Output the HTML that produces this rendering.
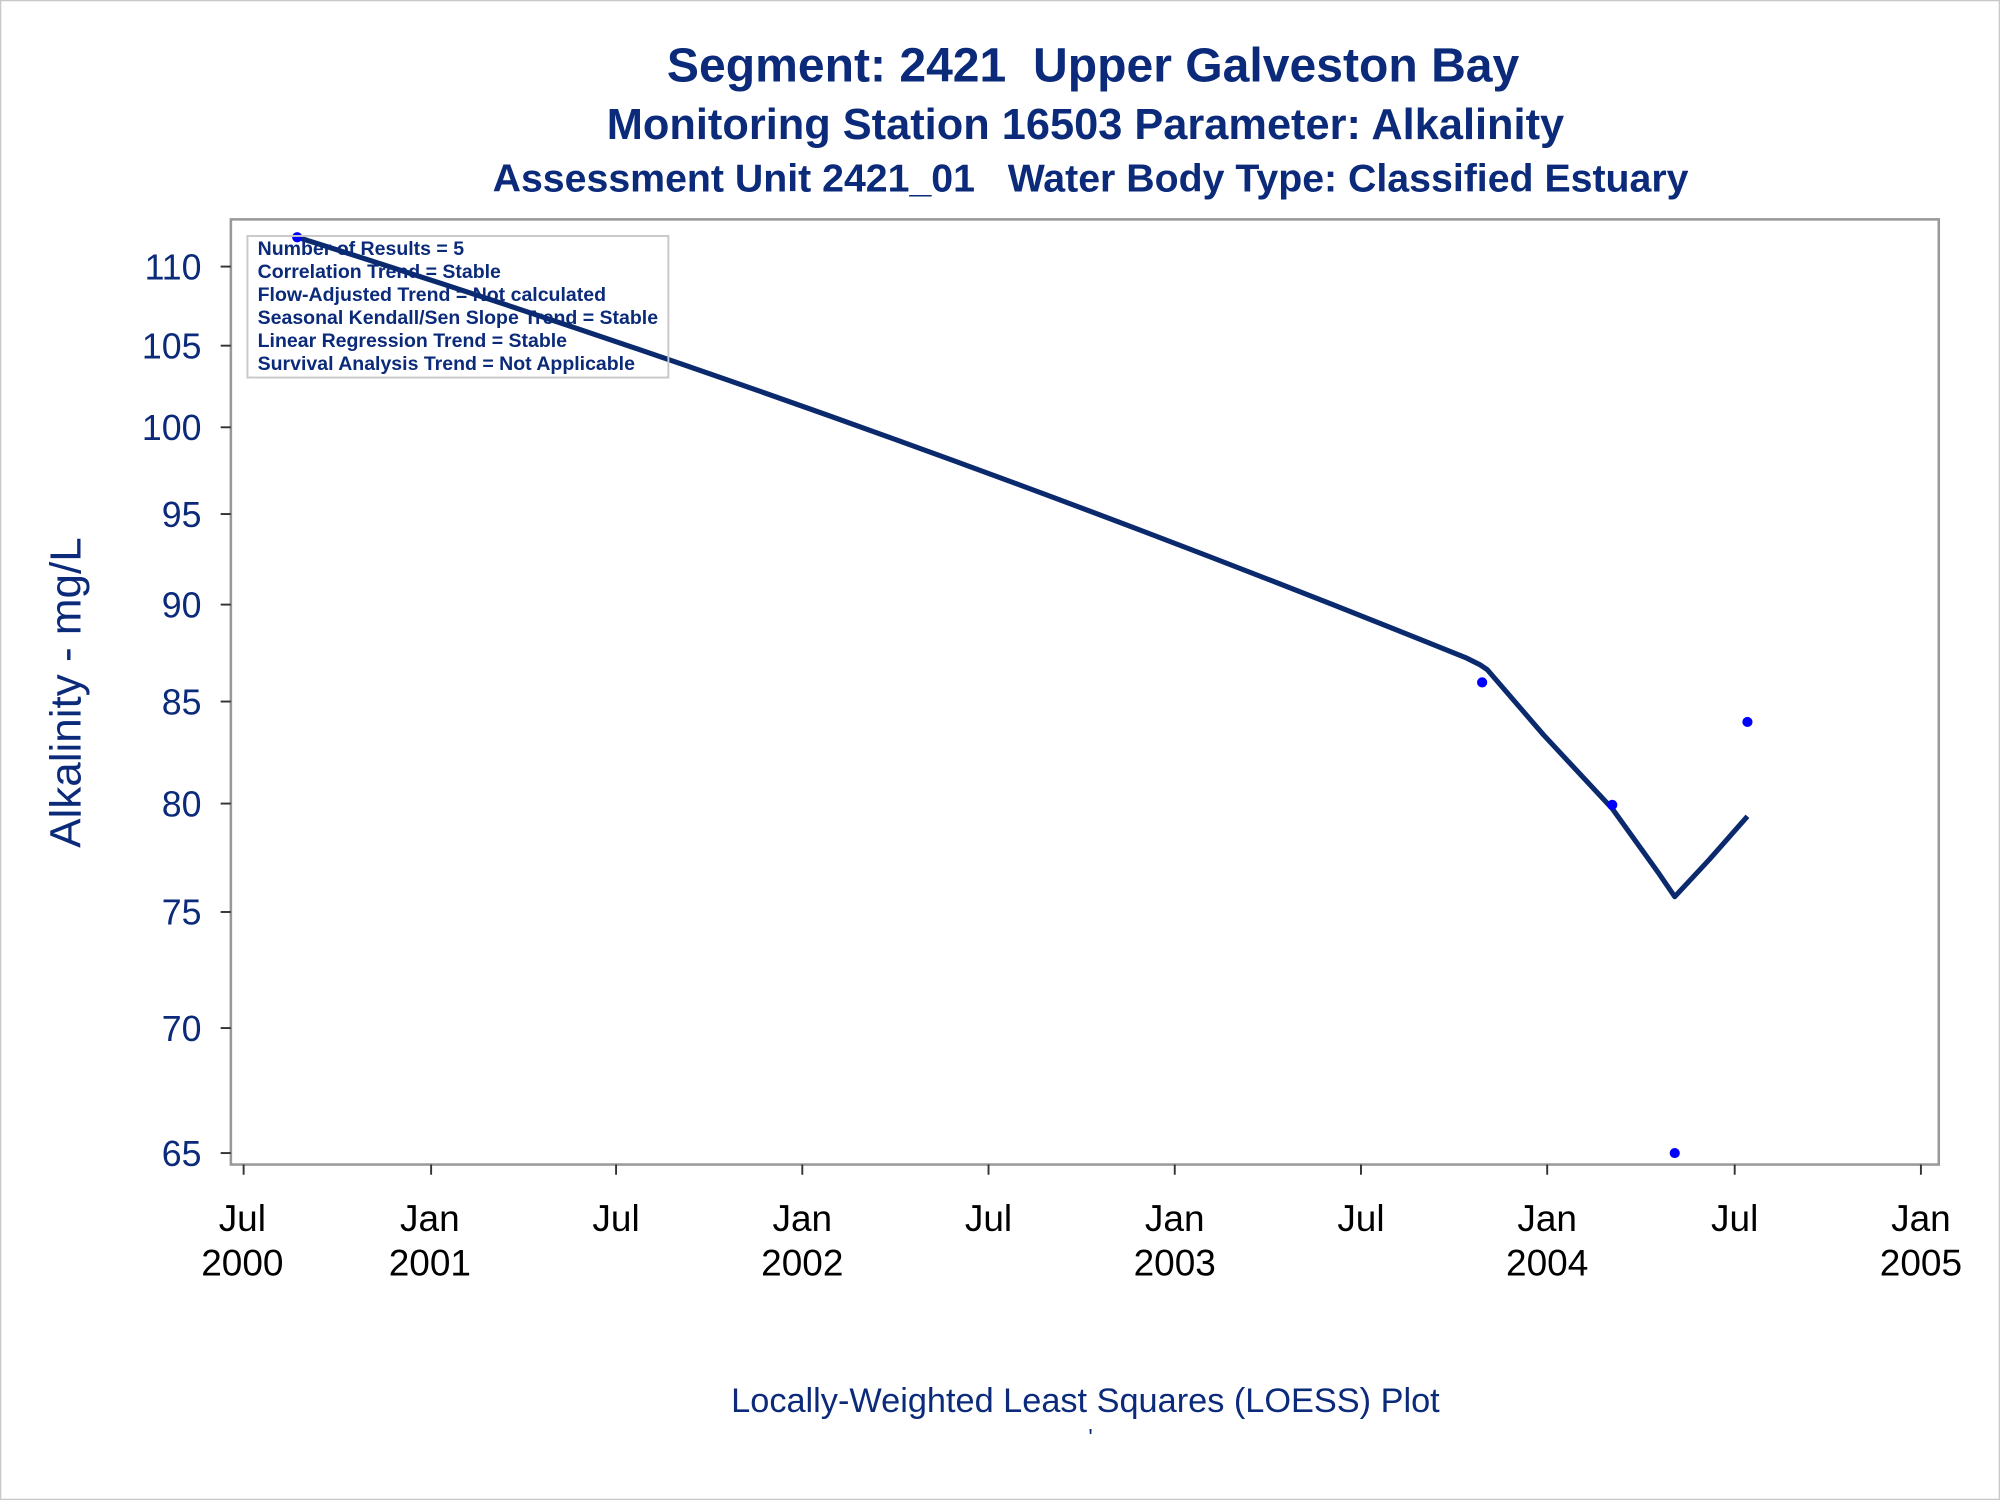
<!DOCTYPE html>
<html><head><meta charset="utf-8"><style>
html,body{margin:0;padding:0;background:#fff;}
svg{display:block;}
text{font-family:"Liberation Sans",Arial,sans-serif;fill:#0b2a7a;}
</style></head><body>
<svg width="2000" height="1500" viewBox="0 0 1568 1176" xmlns="http://www.w3.org/2000/svg">
<rect x="0.5" y="0.5" width="1567" height="1175" fill="#fff" stroke="#c8c8c8" stroke-width="1"/>
<text x="857" y="64" font-size="37.7" font-weight="bold" text-anchor="middle" xml:space="preserve">Segment: 2421  Upper Galveston Bay</text>
<text x="851" y="109" font-size="34" font-weight="bold" text-anchor="middle">Monitoring Station 16503 Parameter: Alkalinity</text>
<text x="855" y="150" font-size="30.8" font-weight="bold" text-anchor="middle" xml:space="preserve">Assessment Unit 2421_01   Water Body Type: Classified Estuary</text>
<rect x="181" y="172" width="1339" height="741" fill="none" stroke="#999" stroke-width="2"/>
<g stroke="#333" stroke-width="1.5">
<line x1="173" y1="209" x2="181" y2="209"/><line x1="173" y1="271" x2="181" y2="271"/><line x1="173" y1="335" x2="181" y2="335"/><line x1="173" y1="403" x2="181" y2="403"/><line x1="173" y1="474" x2="181" y2="474"/><line x1="173" y1="550" x2="181" y2="550"/><line x1="173" y1="630" x2="181" y2="630"/><line x1="173" y1="715" x2="181" y2="715"/><line x1="173" y1="806" x2="181" y2="806"/><line x1="173" y1="904" x2="181" y2="904"/>
<line x1="191" y1="913" x2="191" y2="921"/><line x1="338" y1="913" x2="338" y2="921"/><line x1="483" y1="913" x2="483" y2="921"/><line x1="629" y1="913" x2="629" y2="921"/><line x1="775" y1="913" x2="775" y2="921"/><line x1="921" y1="913" x2="921" y2="921"/><line x1="1067" y1="913" x2="1067" y2="921"/><line x1="1213" y1="913" x2="1213" y2="921"/><line x1="1360" y1="913" x2="1360" y2="921"/><line x1="1506" y1="913" x2="1506" y2="921"/>
</g>
<g font-size="28" text-anchor="end">
<text x="158" y="219">110</text><text x="158" y="281">105</text><text x="158" y="345">100</text><text x="158" y="413">95</text><text x="158" y="484">90</text><text x="158" y="560">85</text><text x="158" y="640">80</text><text x="158" y="725">75</text><text x="158" y="816">70</text><text x="158" y="914">65</text>
</g>
<g font-size="29" text-anchor="middle">
<text x="190" y="965" style="fill:#000">Jul</text><text x="190" y="1000" style="fill:#000">2000</text>
<text x="337" y="965" style="fill:#000">Jan</text><text x="337" y="1000" style="fill:#000">2001</text>
<text x="483" y="965" style="fill:#000">Jul</text>
<text x="629" y="965" style="fill:#000">Jan</text><text x="629" y="1000" style="fill:#000">2002</text>
<text x="775" y="965" style="fill:#000">Jul</text>
<text x="921" y="965" style="fill:#000">Jan</text><text x="921" y="1000" style="fill:#000">2003</text>
<text x="1067" y="965" style="fill:#000">Jul</text>
<text x="1213" y="965" style="fill:#000">Jan</text><text x="1213" y="1000" style="fill:#000">2004</text>
<text x="1360" y="965" style="fill:#000">Jul</text>
<text x="1506" y="965" style="fill:#000">Jan</text><text x="1506" y="1000" style="fill:#000">2005</text>
</g>
<text transform="translate(63,543) rotate(-90)" font-size="34.5" text-anchor="middle">Alkalinity - mg/L</text>
<path d="M233,186 Q690,330 1150,516 L1160,521 L1166,525 L1210,576 L1264,634 L1300,684 L1313,703 L1340,674 L1370,640" fill="none" stroke="#0b2a6e" stroke-width="4" stroke-linejoin="round"/>
<g fill="#0000ff">
<circle cx="233" cy="186" r="4"/><circle cx="1162" cy="535" r="4"/><circle cx="1264" cy="631" r="4"/><circle cx="1313" cy="904" r="4"/><circle cx="1370" cy="566" r="4"/>
</g>
<rect x="194" y="185" width="330" height="111" fill="none" stroke="#c8c8c8" stroke-width="1.5"/>
<g font-size="15.3" font-weight="bold">
<text x="202" y="200">Number of Results = 5</text>
<text x="202" y="218">Correlation Trend = Stable</text>
<text x="202" y="236">Flow-Adjusted Trend = Not calculated</text>
<text x="202" y="254">Seasonal Kendall/Sen Slope Trend = Stable</text>
<text x="202" y="272">Linear Regression Trend = Stable</text>
<text x="202" y="290">Survival Analysis Trend = Not Applicable</text>
</g>
<text x="851" y="1107" font-size="26.9" text-anchor="middle">Locally-Weighted Least Squares (LOESS) Plot</text>
<text x="855" y="1133" font-size="18" text-anchor="middle">'</text>
</svg>
</body></html>
